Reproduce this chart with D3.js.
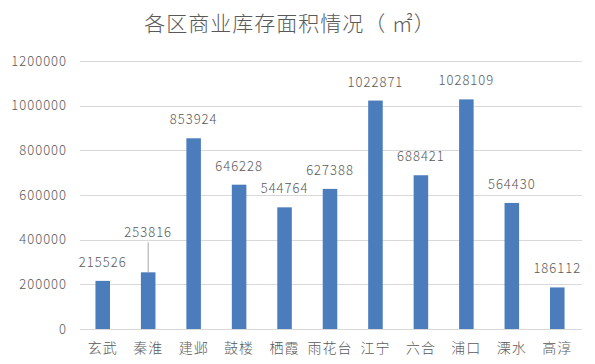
<!DOCTYPE html>
<html>
<head>
<meta charset="utf-8">
<script src="https://cdn.jsdelivr.net/npm/d3@7"></script>
<style>
  body { margin: 0; background: #fff; }
  svg text { font-family: "Noto Sans CJK SC", "Noto Sans", sans-serif; fill: #595959; font-weight: 300; }
</style>
</head>
<body>
<svg width="595" height="364"></svg>
<script>
// data
let districts = ["玄武", "秦淮", "建邺", "鼓楼", "栖霞", "雨花台", "江宁", "六合", "浦口", "溧水", "高淳"];
let areas = [215526, 253816, 853924, 646228, 544764, 627388, 1022871, 688421, 1028109, 564430, 186112];
let yTicks = [0, 200000, 400000, 600000, 800000, 1000000, 1200000];
let title = "各区商业库存面积情况（ ㎡）";

let svg = d3.select("svg");
let margin = { left: 80, right: 15, top: 61, bottom: 35 };
let width = 595, height = 364;

let x = d3.scaleBand()
  .domain(districts)
  .range([margin.left, width - margin.right])
  .paddingInner(0.68)
  .paddingOuter(0.34);

let y = d3.scaleLinear()
  .domain([0, 1200000])
  .range([height - margin.bottom, margin.top]);

// title
svg.append("text")
  .attr("x", 290)
  .attr("y", 31)
  .attr("text-anchor", "middle")
  .style("font-size", "21px")
  .style("letter-spacing", "1px")
  .text(title);

// gridlines
svg.append("g")
  .selectAll("line")
  .data(yTicks)
  .enter().append("line")
  .attr("x1", margin.left)
  .attr("x2", width - margin.right + 2)
  .attr("y1", d => Math.round(y(d)) + 0.5)
  .attr("y2", d => Math.round(y(d)) + 0.5)
  .style("stroke", "#d9d9d9")
  .style("stroke-width", 1);

// y axis labels
let yAxis = svg.append("g")
  .attr("transform", `translate(${margin.left - 13},0)`)
  .call(d3.axisLeft(y).tickValues(yTicks).tickSize(0).tickFormat(d3.format("d")));
yAxis.select(".domain").remove();
yAxis.selectAll("text")
  .attr("x", 0)
  .style("font-size", "13px")
  .style("letter-spacing", "1px")
  .style("fill", "#595959");

// bars
svg.append("g")
  .selectAll("rect")
  .data(areas)
  .enter().append("rect")
  .attr("x", (d, i) => x(districts[i]))
  .attr("y", d => y(d))
  .attr("width", x.bandwidth())
  .attr("height", d => y(0) - y(d))
  .style("fill", "#4b7dbd");

// x axis labels
let xAxis = svg.append("g")
  .attr("transform", `translate(0,${y(0)})`)
  .call(d3.axisBottom(x).tickSize(0));
xAxis.select(".domain").remove();
xAxis.selectAll("text")
  .attr("y", 14)
  .style("font-size", "14px")
  .style("letter-spacing", "1px")
  .style("fill", "#595959");

// value labels, 秦淮 label lifted with a leader line
let lift = districts.map(d => d === "秦淮" ? 21 : 0);

svg.append("g")
  .selectAll("line")
  .data(areas.filter((d, i) => lift[i] > 0))
  .enter().append("line")
  .attr("x1", d => x("秦淮") + x.bandwidth() / 2)
  .attr("x2", d => x("秦淮") + x.bandwidth() / 2)
  .attr("y1", d => y(d))
  .attr("y2", d => y(d) - 30)
  .style("stroke", "#a6a6a6")
  .style("stroke-width", 1);

svg.append("g")
  .selectAll("text")
  .data(areas)
  .enter().append("text")
  .attr("x", (d, i) => x(districts[i]) + x.bandwidth() / 2)
  .attr("y", (d, i) => y(d) - 14 - lift[i])
  .attr("text-anchor", "middle")
  .style("font-size", "13px")
  .style("letter-spacing", "1px")
  .text(d => d);
</script>
</body>
</html>
